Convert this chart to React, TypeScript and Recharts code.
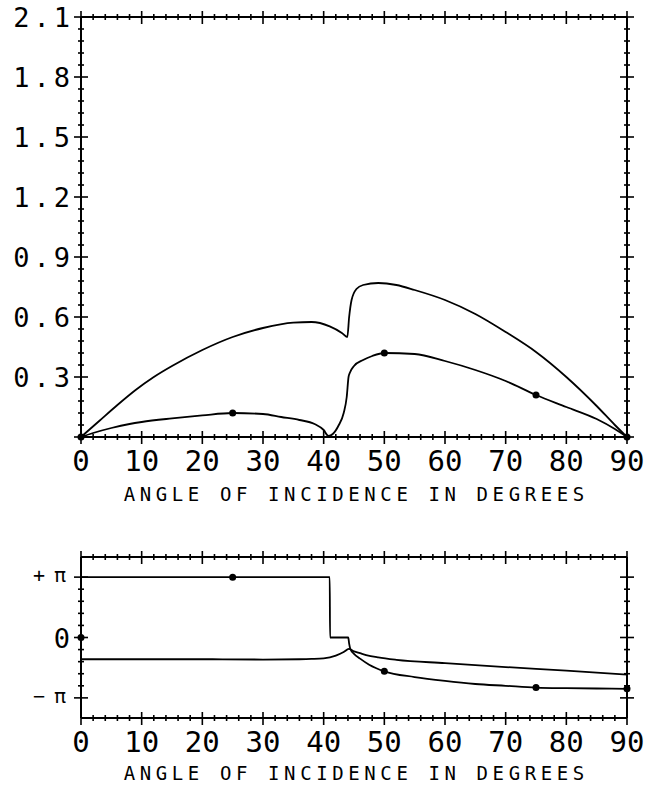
import { LineChart, Line, XAxis, YAxis } from 'recharts'

const FONT = '"DejaVu Sans Mono", "Liberation Mono", monospace'
const INK = '#000'
const TITLE = 'ANGLE OF INCIDENCE IN DEGREES'

// angle axis (degrees)
const angleMajor = [0, 10, 20, 30, 40, 50, 60, 70, 80, 90]
const angleTicks = Array.from({ length: 46 }, (_, i) => i * 2)
const markAngles = [0, 25, 50, 75, 90]

// top panel: magnitude
const magMajor = [0, 0.3, 0.6, 0.9, 1.2, 1.5, 1.8, 2.1]
const magLabels = ['', '0.3', '0.6', '0.9', '1.2', '1.5', '1.8', '2.1']
const magTicks = Array.from({ length: 36 }, (_, i) => +(i * 0.06).toFixed(2))

const upperAngles = [0, 3, 6, 9, 12, 15, 20, 25, 30, 35, 38, 41, 43, 43.9, 44.2, 44.6, 45.4, 46.5, 49, 52, 55, 60, 65, 70, 75, 80, 85, 88, 90]
const upperValues = [0, 0.08, 0.16, 0.235, 0.3, 0.355, 0.435, 0.5, 0.545, 0.572, 0.575, 0.553, 0.52, 0.5, 0.6, 0.685, 0.74, 0.76, 0.77, 0.76, 0.735, 0.685, 0.615, 0.525, 0.425, 0.3, 0.155, 0.06, 0]

const lowerAngles = [0, 2, 5, 8, 10, 15, 20, 25, 30, 33, 36, 38.5, 40, 40.8, 41.5, 42.5, 43.3, 43.8, 44.1, 44.3, 45, 46.5, 48, 50, 55, 60, 65, 70, 75, 80, 85, 88, 90]
const lowerValues = [0, 0.02, 0.045, 0.065, 0.075, 0.093, 0.108, 0.12, 0.115, 0.1, 0.085, 0.065, 0.035, 0.005, 0.015, 0.06, 0.12, 0.2, 0.3, 0.32, 0.355, 0.385, 0.405, 0.42, 0.415, 0.38, 0.335, 0.28, 0.21, 0.15, 0.09, 0.04, 0]

// bottom panel: phase, in units of pi
const phaseMajor = [-1, 0, 1]
const phaseLabels = ['−π', '0', '+π']
const phaseTicks = [-1, -0.8, -0.6, -0.4, -0.2, 0, 0.2, 0.4, 0.6, 0.8, 1]

const stepAngles = [0, 0.01, 10, 25, 35, 41, 41.05, 44.05, 44.2, 44.4, 45, 46, 47.5, 50, 55, 60, 65, 70, 75, 80, 85, 90]
const stepValues = [0, 1, 1, 1, 1, 1, 0, 0, -0.1, -0.19, -0.27, -0.35, -0.45, -0.56, -0.655, -0.72, -0.77, -0.8, -0.83, -0.84, -0.845, -0.85]

const flatAngles = [0, 10, 20, 30, 36, 38, 40, 42, 43.3, 44.15, 45, 46, 47, 49, 52, 60, 70, 80, 90]
const flatValues = [-0.36, -0.36, -0.36, -0.365, -0.36, -0.355, -0.345, -0.3, -0.24, -0.19, -0.23, -0.26, -0.29, -0.33, -0.37, -0.425, -0.49, -0.55, -0.615]

const rows = (a: number[], v: number[]) => a.map((x, i) => ({ a: x, v: v[i] }))

const near = (list: number[], v: number) => list.some((m) => Math.abs(m - v) < 1e-6)

function xTick(labels: boolean) {
  return (props: any) => {
    const { x, y, payload } = props
    const major = near(angleMajor, payload.value)
    return (
      <g>
        <line x1={x} x2={x} y1={y - (major ? 6 : 3)} y2={y + (major ? 7 : 3)} stroke={INK} strokeWidth={1.6} />
        {labels && major && (
          <text x={x} y={y + 34} textAnchor="middle" fontFamily={FONT} fontSize={29} fill={INK}>
            {payload.value}
          </text>
        )}
      </g>
    )
  }
}

function yTick(major: number[], labels: string[] | null) {
  return (props: any) => {
    const { x, y, payload } = props
    const idx = major.findIndex((m) => Math.abs(m - payload.value) < 1e-6)
    const isMajor = idx >= 0
    const len = isMajor ? 7 : 3
    const text = labels && isMajor ? labels[idx] : ''
    const pi = text.includes('π')
    return (
      <g>
        <line x1={x - len} x2={x + len} y1={y} y2={y} stroke={INK} strokeWidth={1.6} />
        {text && (
          <text
            x={pi ? x - 6 : x - 7}
            y={pi ? y + 5 : y + 10}
            textAnchor="end"
            fontFamily={FONT}
            fontSize={pi ? 20 : 27}
            letterSpacing={pi ? 9 : 4}
            fill={INK}
          >
            {text}
          </text>
        )}
      </g>
    )
  }
}

const title = (dy: number) => (props: any) => {
  const vb = props.viewBox
  return (
    <text
      x={vb.x + vb.width / 2 + 2.3}
      y={vb.y + dy}
      textAnchor="middle"
      fontFamily={FONT}
      fontSize={19}
      letterSpacing={4.6}
      fill={INK}
    >
      {TITLE}
    </text>
  )
}

function markDot(props: any) {
  const { cx, cy, payload, index } = props
  if (!near(markAngles, payload.a)) return <g key={index} />
  return <circle key={index} cx={cx} cy={cy} r={3.5} fill={INK} />
}

const axisLine = { stroke: INK, strokeWidth: 2 }

function Frame({ yDomain, yTicks, yMajor, yLabels, titleDy, ghost }: any) {
  return (
    <>
      <XAxis
        xAxisId="b"
        dataKey="a"
        type="number"
        domain={[0, 90]}
        ticks={angleTicks}
        interval={0}
        tickSize={0}
        tickMargin={0}
        height={68}
        axisLine={axisLine}
        tick={xTick(true)}
        label={title(titleDy)}
      />
      <XAxis
        xAxisId="t"
        dataKey="a"
        orientation="top"
        type="number"
        domain={[0, 90]}
        ticks={angleTicks}
        interval={0}
        tickSize={0}
        tickMargin={0}
        height={1}
        axisLine={axisLine}
        tick={xTick(false)}
      />
      <YAxis
        yAxisId="l"
        type="number"
        domain={yDomain}
        ticks={yTicks}
        interval={0}
        tickSize={0}
        tickMargin={0}
        width={75}
        axisLine={axisLine}
        tick={yTick(yMajor, yLabels)}
      />
      <YAxis
        yAxisId="r"
        orientation="right"
        type="number"
        domain={yDomain}
        ticks={yTicks}
        interval={0}
        tickSize={0}
        tickMargin={0}
        width={1}
        axisLine={axisLine}
        tick={yTick(yMajor, null)}
      />
      {/* invisible copy so the top and right frame axes get their ticks */}
      <Line xAxisId="t" yAxisId="r" data={ghost} dataKey="v" stroke="none" dot={false} activeDot={false} isAnimationActive={false} />
    </>
  )
}

export default function App() {
  const magUpper = rows(upperAngles, upperValues)
  const magLower = rows(lowerAngles, lowerValues)
  const phaseStep = rows(stepAngles, stepValues)
  const phaseFlat = rows(flatAngles, flatValues)

  return (
    <div style={{ position: 'absolute', left: 0, top: 0, width: 660, height: 789, background: '#fff' }}>
      <div style={{ position: 'absolute', left: 0, top: 0 }}>
        <LineChart width={660} height={530} margin={{ top: 16, right: 32, bottom: 25, left: 6 }}>
          {Frame({ yDomain: [0, 2.1], yTicks: magTicks, yMajor: magMajor, yLabels: magLabels, titleDy: 64, ghost: magUpper })}
          <Line xAxisId="b" yAxisId="l" data={magUpper} dataKey="v" type="monotone" stroke={INK} strokeWidth={1.8} dot={false} activeDot={false} isAnimationActive={false} />
          <Line xAxisId="b" yAxisId="l" data={magLower} dataKey="v" type="monotone" stroke={INK} strokeWidth={1.8} dot={markDot} activeDot={false} isAnimationActive={false} />
        </LineChart>
      </div>
      <div style={{ position: 'absolute', left: 0, top: 530 }}>
        <LineChart width={660} height={259} margin={{ top: 26, right: 32, bottom: 3, left: 6 }}>
          {Frame({ yDomain: [-4 / 3, 4 / 3], yTicks: phaseTicks, yMajor: phaseMajor, yLabels: phaseLabels, titleDy: 62, ghost: phaseFlat })}
          <Line xAxisId="b" yAxisId="l" data={phaseFlat} dataKey="v" type="monotone" stroke={INK} strokeWidth={1.8} dot={false} activeDot={false} isAnimationActive={false} />
          <Line xAxisId="b" yAxisId="l" data={phaseStep} dataKey="v" type="monotone" stroke={INK} strokeWidth={1.8} dot={markDot} activeDot={false} isAnimationActive={false} />
        </LineChart>
      </div>
    </div>
  )
}
